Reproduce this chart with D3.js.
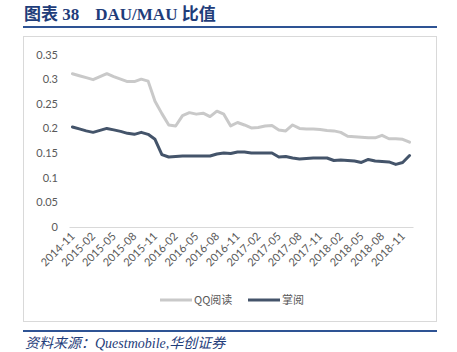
<!DOCTYPE html>
<html>
  <head>
    <meta charset="utf-8">
    <script src="https://d3js.org/d3.v7.min.js"></script>
    <style>
      body { margin: 0; background: #fff; }
      svg { display: block; }
    </style>
  </head>
  <body>
    <script type="text/javascript">

      // months 2014-11 .. 2018-12
      var months = [];
      for (var y = 2014, m = 11; y < 2019; ) {
        months.push(y + "-" + (m < 10 ? "0" + m : m));
        m++; if (m > 12) { m = 1; y++; }
      }

      var seriesNames = ["QQ阅读", "掌阅"];

      var qqRead = [0.311, 0.307, 0.303, 0.299, 0.305, 0.311, 0.305, 0.300, 0.295, 0.295,
                    0.300, 0.296, 0.255, 0.230, 0.207, 0.205, 0.226, 0.232, 0.229, 0.231,
                    0.224, 0.235, 0.229, 0.205, 0.212, 0.207, 0.201, 0.202, 0.205, 0.206,
                    0.197, 0.195, 0.207, 0.200, 0.199, 0.199, 0.198, 0.196, 0.195, 0.192,
                    0.184, 0.183, 0.182, 0.181, 0.181, 0.186, 0.179, 0.179, 0.178, 0.172];

      var zhangYue = [0.203, 0.199, 0.195, 0.192, 0.196, 0.200, 0.197, 0.194, 0.190, 0.188,
                      0.192, 0.188, 0.178, 0.147, 0.142, 0.143, 0.144, 0.144, 0.144, 0.144,
                      0.144, 0.148, 0.150, 0.149, 0.152, 0.152, 0.150, 0.150, 0.150, 0.150,
                      0.142, 0.143, 0.140, 0.138, 0.139, 0.140, 0.140, 0.140, 0.135, 0.136,
                      0.135, 0.134, 0.131, 0.137, 0.134, 0.133, 0.132, 0.127, 0.131, 0.145];

      var yTicks = [0, 0.05, 0.1, 0.15, 0.2, 0.25, 0.3, 0.35];
      var xTicks = months.filter(function (d, i) { return i % 3 === 0; });

      var colors = ["#C9C9C9", "#44546A"];
      var width = 457, height = 352;
      var titleBlue = "#1F3D7A";

      var svg = d3.select("body").append("svg")
          .attr("width", width)
          .attr("height", height);

      // title
      var title = svg.append("text")
          .attr("x", 24).attr("y", 20)
          .style("font-family", "'Liberation Serif', 'Noto Sans CJK SC', serif")
          .style("font-weight", "bold")
          .style("font-size", "17px")
          .attr("fill", titleBlue);
      title.append("tspan").text("图表 38");
      title.append("tspan").attr("dx", 16).text("DAU/MAU 比值");

      svg.append("line")
          .attr("x1", 23).attr("x2", 437).attr("y1", 27).attr("y2", 27)
          .attr("stroke", "#2E5394").attr("stroke-width", 2);

      // chart frame
      svg.append("rect")
          .attr("x", 23.5).attr("y", 36.5).attr("width", 413).attr("height", 285)
          .attr("fill", "none").attr("stroke", "#D9D9D9");

      var x = d3.scaleBand().domain(months).range([69, 413]);
      var yS = d3.scaleLinear().domain([0, 0.35]).range([227, 54.5]);
      var cx = function (d) { return x(d) + x.bandwidth() / 2; };

      // y axis labels
      svg.selectAll(".ylab").data(yTicks).enter().append("text")
          .attr("x", 58).attr("y", function (d) { return yS(d) + 4; })
          .attr("text-anchor", "end")
          .style("font-family", "Lato, 'Liberation Sans', sans-serif")
          .style("font-size", "11px")
          .attr("fill", "#595959")
          .text(function (d) { return d; });

      // x axis
      var xAxis = svg.append("g")
          .attr("transform", "translate(0,227)")
          .call(d3.axisBottom(x).tickValues(xTicks).tickSize(0).tickSizeOuter(0));
      xAxis.select(".domain").attr("stroke", "#D9D9D9").attr("stroke-width", 1.2);
      xAxis.selectAll("text")
          .attr("text-anchor", "end")
          .attr("dy", null).attr("y", 0)
          .attr("transform", "translate(3,10) rotate(-45)")
          .style("font-family", "Lato, 'Liberation Sans', sans-serif")
          .style("font-size", "11px")
          .attr("fill", "#595959");

      // lines
      var line = d3.line()
          .x(function (d) { return cx(d.m); })
          .y(function (d) { return yS(d.v); });

      [qqRead, zhangYue].forEach(function (vals, k) {
        svg.append("path")
            .datum(vals.map(function (v, i) { return { m: months[i], v: v }; }))
            .attr("d", line)
            .attr("fill", "none")
            .attr("stroke", colors[k])
            .attr("stroke-width", 3)
            .attr("stroke-linejoin", "round")
            .attr("stroke-linecap", "round");
      });

      // legend
      var legX = [160, 248];
      seriesNames.forEach(function (name, k) {
        svg.append("line")
            .attr("x1", legX[k]).attr("x2", legX[k] + 32)
            .attr("y1", 300).attr("y2", 300)
            .attr("stroke", colors[k]).attr("stroke-width", 3);
        svg.append("text")
            .attr("x", legX[k] + 34).attr("y", 304)
            .style("font-family", "'Noto Sans CJK SC', sans-serif")
            .style("font-size", "11px")
            .attr("fill", "#595959")
            .text(name);
      });

      // source footer
      svg.append("line")
          .attr("x1", 23).attr("x2", 437).attr("y1", 331).attr("y2", 331)
          .attr("stroke", "#2E5394").attr("stroke-width", 2);

      svg.append("text")
          .attr("x", 25).attr("y", 348)
          .style("font-family", "'Liberation Serif', 'Noto Sans CJK SC', serif")
          .style("font-style", "italic")
          .style("font-size", "14px")
          .attr("fill", titleBlue)
          .text("资料来源：Questmobile,华创证券");

    </script>
  </body>
</html>
